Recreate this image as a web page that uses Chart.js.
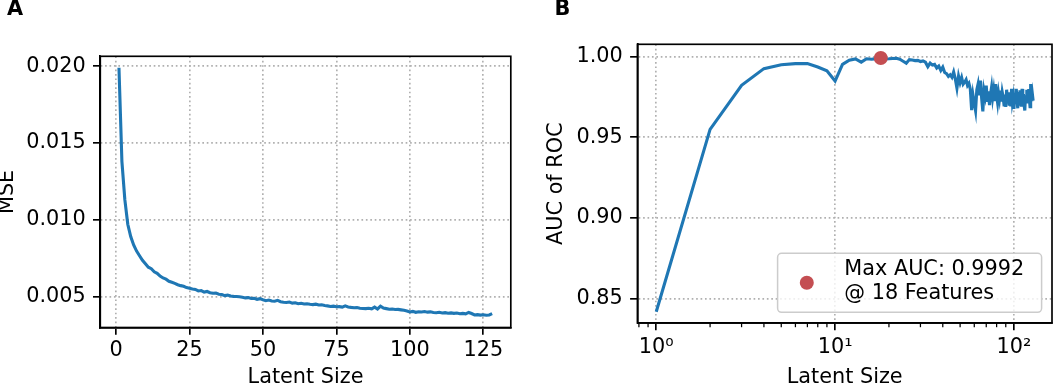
<!DOCTYPE html>
<html>
<head>
<meta charset="utf-8">
<script src="https://cdn.jsdelivr.net/npm/chart.js@4.4.1/dist/chart.umd.min.js"></script>
<style>
  html, body { margin: 0; padding: 0; background: #fff; }
  body { width: 1059px; height: 386px; position: relative; overflow: hidden; font-family: "DejaVu Sans", sans-serif; }
  .panel { position: absolute; top: 0; height: 386px; }
  .tag { position: absolute; font-weight: bold; font-size: 20.8px; line-height: 1; color: #000; }
</style>
</head>
<body>
<div class="panel" style="left:0;width:546px"><canvas id="mseChart" width="546" height="386"></canvas></div>
<div class="panel" style="left:546px;width:513px"><canvas id="aucChart" width="513" height="386"></canvas></div>
<div class="tag" style="left:7px;top:-1.6px">A</div>
<div class="tag" style="left:554.5px;top:-1.6px">B</div>
<script>
// latent sizes tried (x for both panels)
const latentSizes = [
  1, 2, 3, 4, 5, 6, 7, 8, 9, 10, 11, 12, 13, 14, 15, 16,
  17, 18, 19, 20, 21, 22, 23, 24, 25, 26, 27, 28, 29, 30, 31, 32,
  33, 34, 35, 36, 37, 38, 39, 40, 41, 42, 43, 44, 45, 46, 47, 48,
  49, 50, 51, 52, 53, 54, 55, 56, 57, 58, 59, 60, 61, 62, 63, 64,
  65, 66, 67, 68, 69, 70, 71, 72, 73, 74, 75, 76, 77, 78, 79, 80,
  81, 82, 83, 84, 85, 86, 87, 88, 89, 90, 91, 92, 93, 94, 95, 96,
  97, 98, 99, 100, 101, 102, 103, 104, 105, 106, 107, 108, 109, 110, 111, 112,
  113, 114, 115, 116, 117, 118, 119, 120, 121, 122, 123, 124, 125, 126, 127, 128
];

// panel A: reconstruction error
const mse = [
  0.01990, 0.01380, 0.01130, 0.00970, 0.00890, 0.00835, 0.00795, 0.00765,
  0.00735, 0.00712, 0.00690, 0.00680, 0.00660, 0.00650, 0.00632, 0.00620,
  0.00612, 0.00598, 0.00592, 0.00585, 0.00576, 0.00570, 0.00566, 0.00557,
  0.00553, 0.00548, 0.00545, 0.00535, 0.00538, 0.00528, 0.00532, 0.00524,
  0.00520, 0.00521, 0.00514, 0.00512, 0.00505, 0.00508, 0.00502, 0.00500,
  0.00499, 0.00497, 0.00494, 0.00490, 0.00492, 0.00486, 0.00487, 0.00481,
  0.00485, 0.00478, 0.00472, 0.00476, 0.00470, 0.00468, 0.00474, 0.00465,
  0.00462, 0.00460, 0.00463, 0.00456, 0.00458, 0.00452, 0.00455, 0.00450,
  0.00452, 0.00448, 0.00446, 0.00449, 0.00444, 0.00445, 0.00440, 0.00438,
  0.00434, 0.00436, 0.00432, 0.00433, 0.00430, 0.00438, 0.00431, 0.00428,
  0.00426, 0.00427, 0.00423, 0.00421, 0.00420, 0.00422, 0.00419, 0.00430,
  0.00418, 0.00436, 0.00424, 0.00420, 0.00416, 0.00417, 0.00414, 0.00415,
  0.00412, 0.00409, 0.00405, 0.00398, 0.00402, 0.00396, 0.00400, 0.00398,
  0.00401, 0.00397, 0.00399, 0.00395, 0.00393, 0.00396, 0.00392, 0.00394,
  0.00390, 0.00392, 0.00389, 0.00391, 0.00387, 0.00389, 0.00386, 0.00395,
  0.00388, 0.00379, 0.00381, 0.00378, 0.00380, 0.00377, 0.00379, 0.00388
];

// panel B: AUC of ROC
const auc = [
  0.8417, 0.9549, 0.9822, 0.9926, 0.9950, 0.9957, 0.9958, 0.9936,
  0.9912, 0.9849, 0.9952, 0.9978, 0.9986, 0.9966, 0.9987, 0.9984,
  0.9988, 0.9992, 0.9986, 0.9987, 0.9989, 0.9990, 0.9984, 0.9972,
  0.9960, 0.9982, 0.9979, 0.9976, 0.9977, 0.9970, 0.9974, 0.9966,
  0.9938, 0.9960, 0.9948, 0.9952, 0.9930, 0.9942, 0.9915, 0.9935,
  0.9902, 0.9895, 0.9878, 0.9888, 0.9872, 0.9905, 0.9862, 0.9805,
  0.9880, 0.9838, 0.9870, 0.9830, 0.9842, 0.9858, 0.9822, 0.9835,
  0.9800, 0.9668, 0.9762, 0.9712, 0.9665, 0.9795, 0.9830, 0.9760,
  0.9852, 0.9740, 0.9660, 0.9790, 0.9755, 0.9820, 0.9720, 0.9785,
  0.9700, 0.9768, 0.9812, 0.9745, 0.9790, 0.9725, 0.9830, 0.9760,
  0.9715, 0.9775, 0.9738, 0.9790, 0.9722, 0.9780, 0.9750, 0.9700,
  0.9765, 0.9688, 0.9795, 0.9730, 0.9778, 0.9705, 0.9760, 0.9692,
  0.9800, 0.9720, 0.9748, 0.9676, 0.9770, 0.9712, 0.9800, 0.9735,
  0.9680, 0.9780, 0.9705, 0.9792, 0.9740, 0.9690, 0.9800, 0.9730,
  0.9768, 0.9700, 0.9666, 0.9760, 0.9728, 0.9795, 0.9710, 0.9778,
  0.9800, 0.9735, 0.9690, 0.9830, 0.9750, 0.9725, 0.9760, 0.9727
];

const mseTicksX = [0, 25, 50, 75, 100, 125];
const mseTicksY = [0.005, 0.010, 0.015, 0.020];
const aucTicksX = [1, 10, 100];
const aucTickLabels = ['10⁰', '10¹', '10²'];
const aucMinorX = [0.8, 0.9, 2, 3, 4, 5, 6, 7, 8, 9, 20, 30, 40, 50, 60, 70, 80, 90];
const aucTicksY = [0.85, 0.90, 0.95, 1.00];

const BLUE = '#1f77b4';
const RED = '#c44e52';
const FS = 20.8;

Chart.defaults.font.family = "'DejaVu Sans', sans-serif";
Chart.defaults.font.size = FS;
Chart.defaults.color = '#000';

const maxIdx = auc.indexOf(Math.max(...auc));
const legendLines = ['Max AUC: ' + auc[maxIdx].toFixed(4), '@ ' + latentSizes[maxIdx] + ' Features'];

function grid() {
  return { color: '#b0b0b0', lineWidth: 1.67, tickLength: 7.3, tickWidth: 1.67, tickColor: '#000', tickBorderDash: [] };
}
function border() {
  return { display: true, color: '#000', width: 1.67, dash: [1.67, 2.75] };
}

// all four spines
const frame = {
  id: 'frame',
  afterDatasetsDraw(chart) {
    const { ctx, chartArea: a } = chart;
    ctx.save();
    ctx.strokeStyle = '#000';
    ctx.lineWidth = 1.67;
    ctx.strokeRect(a.left, a.top, a.right - a.left, a.bottom - a.top);
    ctx.restore();
  }
};

// short unlabeled ticks on the log axis
const minorTicks = {
  id: 'minorTicks',
  afterDraw(chart) {
    const { ctx, chartArea: a } = chart;
    const s = chart.scales.x;
    ctx.save();
    ctx.strokeStyle = '#000';
    ctx.lineWidth = 1.25;
    aucMinorX.forEach(v => {
      const px = s.getPixelForValue(v);
      if (px < a.left || px > a.right) return;
      ctx.beginPath();
      ctx.moveTo(px, a.bottom);
      ctx.lineTo(px, a.bottom + 4.2);
      ctx.stroke();
    });
    ctx.restore();
  }
};

// matplotlib-like legend, lower right
const legendBox = {
  id: 'legendBox',
  afterDraw(chart) {
    const { ctx, chartArea: a } = chart;
    const w = 264, h = 59, r = 4;
    const right = a.right - 10.4, bottom = a.bottom - 10.7;
    const left = right - w, top = bottom - h;
    ctx.save();
    ctx.beginPath();
    ctx.moveTo(left + r, top);
    ctx.lineTo(right - r, top);
    ctx.arcTo(right, top, right, top + r, r);
    ctx.lineTo(right, bottom - r);
    ctx.arcTo(right, bottom, right - r, bottom, r);
    ctx.lineTo(left + r, bottom);
    ctx.arcTo(left, bottom, left, bottom - r, r);
    ctx.lineTo(left, top + r);
    ctx.arcTo(left, top, left + r, top, r);
    ctx.closePath();
    ctx.fillStyle = 'rgba(255,255,255,0.8)';
    ctx.fill();
    ctx.strokeStyle = '#cccccc';
    ctx.lineWidth = 1.5;
    ctx.stroke();

    ctx.beginPath();
    ctx.arc(left + 29.2, top + 29.4, 7, 0, Math.PI * 2);
    ctx.fillStyle = RED;
    ctx.fill();

    ctx.fillStyle = '#000';
    ctx.font = FS + "px 'DejaVu Sans'";
    ctx.textAlign = 'left';
    ctx.textBaseline = 'middle';
    ctx.fillText(legendLines[0], left + 66.7, top + 16);
    ctx.fillText(legendLines[1], left + 66.7, top + 40);
    ctx.restore();
  }
};

// Panel A
new Chart(document.getElementById('mseChart'), {
  type: 'line',
  data: {
    datasets: [{
      data: latentSizes.map((x, i) => ({ x: x, y: mse[i] })),
      borderColor: BLUE,
      borderWidth: 3.1,
      pointRadius: 0,
      pointHoverRadius: 0,
      tension: 0,
      fill: false
    }]
  },
  options: {
    responsive: false,
    animation: false,
    devicePixelRatio: 1,
    layout: { padding: { left: 0, top: 56.3, right: 35.2, bottom: 0 } },
    plugins: { legend: { display: false }, tooltip: { enabled: false } },
    scales: {
      x: {
        type: 'linear', bounds: 'data', min: -5.35, max: 134.35,
        grid: grid(), border: border(),
        afterBuildTicks: s => { s.ticks = mseTicksX.map(v => ({ value: v })); },
        afterFit: s => { s.height = 386 - 327.5; },
        ticks: { padding: 3.7, maxRotation: 0, autoSkip: false, callback: v => String(v) },
        title: { display: true, text: 'Latent Size', padding: { top: 0, bottom: -2.4 }, font: { lineHeight: 1 } }
      },
      y: {
        type: 'linear', bounds: 'data', min: 0.00297, max: 0.02065,
        grid: grid(), border: border(),
        afterBuildTicks: s => { s.ticks = mseTicksY.map(v => ({ value: v })); },
        afterFit: s => { s.width = 100.3; },
        ticks: { padding: 7.3, autoSkip: false, callback: v => v.toFixed(3) },
        title: { display: true, text: 'MSE', padding: { top: -2.4, bottom: 0 }, font: { lineHeight: 1 } }
      }
    }
  },
  plugins: [frame]
});

// Panel B
new Chart(document.getElementById('aucChart'), {
  type: 'line',
  data: {
    datasets: [{
      data: [{ x: latentSizes[maxIdx], y: auc[maxIdx] }],
      showLine: false,
      pointRadius: 7,
      pointHoverRadius: 7,
      pointBackgroundColor: RED,
      pointBorderColor: RED,
      pointBorderWidth: 0,
      order: 0
    }, {
      data: latentSizes.map((x, i) => ({ x: x, y: auc[i] })),
      borderColor: BLUE,
      borderWidth: 3.1,
      pointRadius: 0,
      pointHoverRadius: 0,
      tension: 0,
      fill: false,
      order: 1
    }]
  },
  options: {
    responsive: false,
    animation: false,
    devicePixelRatio: 1,
    layout: { padding: { left: 0, top: 44.3, right: 1, bottom: 0 } },
    plugins: { legend: { display: false }, tooltip: { enabled: false } },
    scales: {
      x: {
        type: 'logarithmic', bounds: 'data', min: 0.7846, max: 163.2,
        grid: grid(), border: border(),
        afterBuildTicks: s => { s.ticks = aucTicksX.map(v => ({ value: v })); },
        afterFit: s => { s.height = 386 - 323; },
        ticks: { padding: 4.9, maxRotation: 0, autoSkip: false, callback: (v, i) => aucTickLabels[i] },
        title: { display: true, text: 'Latent Size', padding: { top: 0, bottom: -2.4 }, font: { lineHeight: 1 } }
      },
      y: {
        type: 'linear', bounds: 'data', min: 0.8347, max: 1.0077,
        grid: grid(), border: border(),
        afterBuildTicks: s => { s.ticks = aucTicksY.map(v => ({ value: v })); },
        afterFit: s => { s.width = 91.4; },
        ticks: { padding: 7.3, autoSkip: false, callback: v => v.toFixed(2) },
        title: { display: true, text: 'AUC of ROC', padding: { top: 0, bottom: 0 }, font: { lineHeight: 1 } }
      }
    }
  },
  plugins: [frame, minorTicks, legendBox]
});
</script>
</body>
</html>
